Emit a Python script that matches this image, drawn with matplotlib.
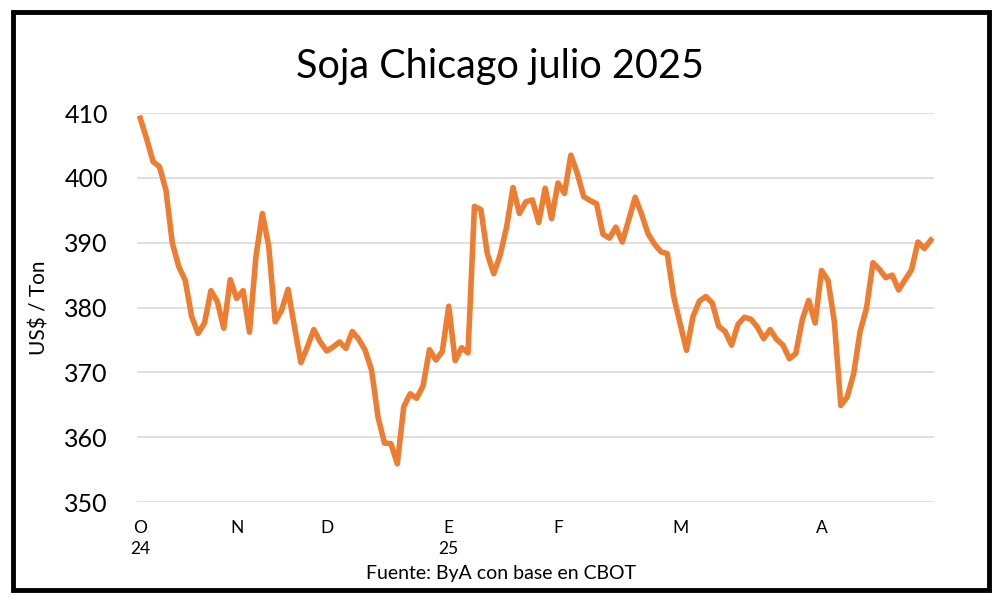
import matplotlib.pyplot as plt
from matplotlib.patches import Rectangle

plt.rcParams['font.family'] = ['Lato', 'DejaVu Sans']

# precio soja julio 2025, US$/ton (ruedas desde oct-24)
precios = [409.2, 406.0, 402.5, 401.7, 398.1, 389.9, 386.3, 384.2, 378.6, 376.0,
           377.6, 382.6, 380.9, 376.8, 384.3, 381.4, 382.6, 376.2, 387.8, 394.5,
           389.4, 377.8, 379.6, 382.8, 377.0, 371.5, 373.9, 376.6, 374.7, 373.3,
           373.9, 374.7, 373.7, 376.3, 375.1, 373.4, 370.3, 363.1, 359.1, 359.0,
           355.9, 364.7, 366.7, 366.0, 367.9, 373.5, 371.9, 373.2, 380.2, 371.8,
           373.8, 373.0, 395.6, 395.1, 388.3, 385.2, 388.1, 392.4, 398.5, 394.5,
           396.3, 396.6, 393.1, 398.4, 393.7, 399.2, 397.6, 403.5, 400.7, 397.1,
           396.5, 396.0, 391.3, 390.7, 392.4, 390.1, 393.5, 397.0, 394.4, 391.4,
           389.8, 388.6, 388.3, 381.7, 377.5, 373.4, 378.6, 381.0, 381.7, 380.7,
           377.1, 376.3, 374.2, 377.4, 378.5, 378.2, 377.0, 375.2, 376.6, 375.1,
           374.2, 372.1, 372.9, 378.1, 381.1, 377.6, 385.7, 384.2, 377.8, 364.9,
           366.2, 369.8, 376.3, 379.9, 386.9, 385.9, 384.6, 385.0, 382.7, 384.3,
           385.8, 390.1, 389.1, 390.4]
dias = list(range(len(precios)))

# meses (posicion en ruedas)
mes_pos = [0, 15, 29, 48, 65, 84, 106]
mes_lbl = ["O\n24", "N", "D", "E\n25", "F", "M", "A"]
y_ticks = [350, 360, 370, 380, 390, 400, 410]

fig = plt.figure(figsize=(10, 6.05), dpi=100)
ax = fig.add_axes([0.137, 0.1702, 0.797, 0.643])

ax.plot(dias, precios, color="#ED7D31", linewidth=4, solid_joinstyle="round")

ax.set_ylim(350, 410)
ax.set_xlim(-0.5, 123.5)
ax.set_yticks(y_ticks)
ax.set_xticks(mes_pos)
ax.set_xticklabels(mes_lbl, fontsize=12.5, linespacing=1.4)
ax.tick_params(axis="y", labelsize=18, length=0, pad=21)
ax.tick_params(axis="x", length=0, pad=13)
ax.grid(axis="y", color="#D9D9D9", linewidth=1.2)
ax.set_axisbelow(True)
for s in ax.spines.values():
    s.set_visible(False)

fig.text(0.5, 1 - 78 / 605, "Soja Chicago julio 2025", ha="center", va="baseline", fontsize=28.5)
fig.text(0.040, 1 - 308 / 605, "US$ / Ton", ha="center", va="center", rotation=90, fontsize=15)
fig.text(0.501, 1 - 573 / 605, "Fuente: ByA con base en CBOT", ha="center", va="center", fontsize=14)

# marco negro
fig.patches.append(Rectangle((0.013, 0.025), 0.976, 0.955, transform=fig.transFigure,
                             fill=False, edgecolor="black", linewidth=3.5))

fig.savefig("out.png", dpi=100)
